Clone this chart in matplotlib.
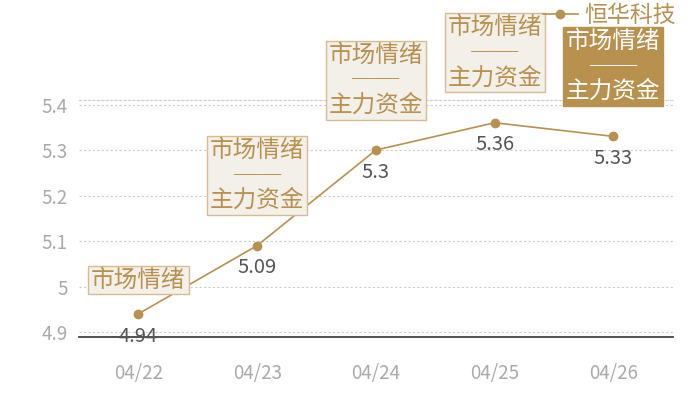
import matplotlib
matplotlib.use("Agg")
import matplotlib.pyplot as plt
from matplotlib.lines import Line2D

plt.rcParams['font.family'] = ['Noto Sans CJK SC', 'DejaVu Sans']

# data
dates = ['04/22', '04/23', '04/24', '04/25', '04/26']
prices = [4.94, 5.09, 5.3, 5.36, 5.33]
tags = ['市场情绪',
        '市场情绪\n──\n主力资金',
        '市场情绪\n──\n主力资金',
        '市场情绪\n──\n主力资金',
        '市场情绪\n──\n主力资金']
highlight = [False, False, False, False, True]
series_name = '恒华科技'
yticks = [4.9, 5.0, 5.1, 5.2, 5.3, 5.4]
ytick_labels = ['4.9', '5', '5.1', '5.2', '5.3', '5.4']

gold = '#B8914F'
box_fill = '#F3EFE9'
box_edge = '#D6BC91'

fig = plt.figure(figsize=(7, 4), dpi=100)
ax = fig.add_axes([0.113, 0.1575, 0.848, 0.5925])

x = list(range(len(dates)))
ax.plot(x, prices, color=gold, lw=1.2, marker='o', ms=6, mec=gold, mfc=gold,
        zorder=3)

ax.set_xlim(-0.5, len(dates) - 0.5)
ax.set_ylim(4.889, 5.41)
ax.set_yticks(yticks)
ax.set_yticklabels(ytick_labels)
ax.set_xticks(x)
ax.set_xticklabels(dates)
ax.tick_params(axis='both', length=0, labelsize=13.5, colors='#AAAAAA')
ax.tick_params(axis='x', pad=19)
ax.tick_params(axis='y', pad=8)

for s in ['left', 'right']:
    ax.spines[s].set_visible(False)
ax.spines['top'].set_color('#CCCCCC')
ax.spines['top'].set_linestyle((0, (2, 2)))
ax.spines['top'].set_linewidth(0.8)
ax.spines['bottom'].set_color('#333333')
ax.spines['bottom'].set_linewidth(1.2)
ax.yaxis.grid(True, color='#CCCCCC', linestyle=(0, (2, 2)), linewidth=0.8)
ax.set_axisbelow(True)

# value labels under the points
for xi, v in zip(x, prices):
    ax.annotate(f'{v:g}', (xi, v), xytext=(0, -16), textcoords='offset points',
                ha='center', va='center', fontsize=14.5, color='#555555',
                zorder=5)

# tag boxes above the points
for xi, v, t, h in zip(x, prices, tags, highlight):
    off = 16 if '\n' not in t else 24
    if h:
        bb = dict(boxstyle='square,pad=0.12', fc=gold, ec=gold, lw=1)
        tc = 'white'
    else:
        bb = dict(boxstyle='square,pad=0.12', fc=box_fill, ec=box_edge, lw=1)
        tc = gold
    ax.annotate(t, (xi, v), xytext=(0, off), textcoords='offset points',
                ha='center', va='bottom', fontsize=17, color=tc,
                linespacing=1.12, bbox=bb, zorder=6, annotation_clip=False)

handle = Line2D([], [], color=gold, lw=1.2, marker='o', ms=6)
fig.legend([handle], [series_name], loc='upper right',
           bbox_to_anchor=(676 / 700, 1 - 4 / 400), frameon=False,
           fontsize=16.5, labelcolor=gold, handlelength=1.5, handletextpad=0.3,
           borderpad=0, borderaxespad=0)

fig.savefig('out.png', dpi=100)
